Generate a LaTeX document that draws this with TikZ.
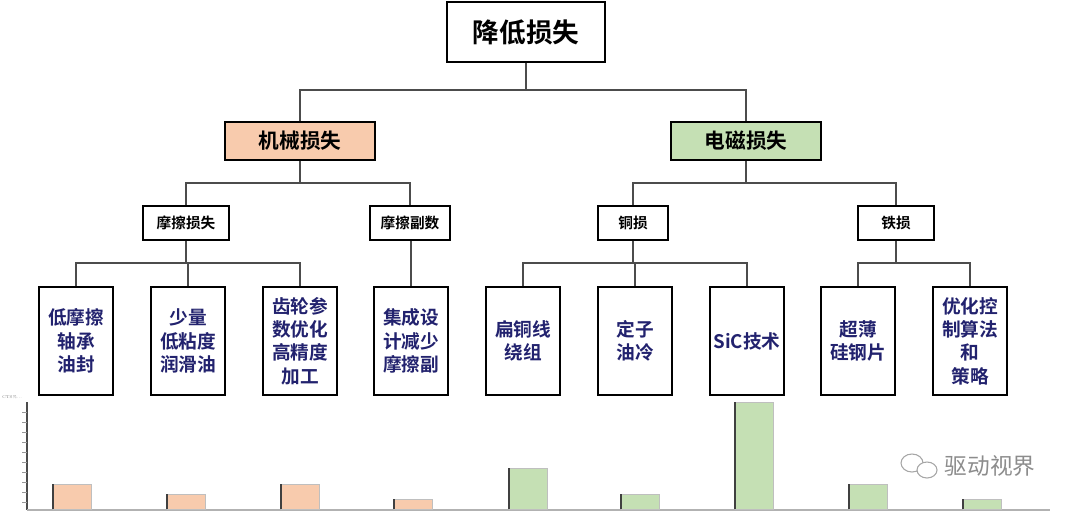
\documentclass[tikz,border=0pt]{standalone}
\usepackage{fontspec}
\newfontfamily\cjk{Noto Sans CJK SC}[BoldFont={* Bold}]
\newfontfamily\cjkb{Noto Sans CJK SC Bold}
\definecolor{peach}{HTML}{F8CBAD}
\definecolor{leaf}{HTML}{C5E0B4}
\definecolor{navy}{HTML}{22226E}
\begin{document}
\begin{tikzpicture}[x=0.75pt,y=-0.75pt,
  box/.style={draw=black,line width=1.5pt,fill=white,inner sep=0pt,align=center,font=\cjkb},
  leafbox/.style={box,minimum width=56pt,minimum height=81pt,font=\cjkb\fontsize{14}{17.5}\selectfont,text=navy},
  wire/.style={draw=black!70,line width=0.8pt},
  bar/.style={draw=black!25,line width=0.4pt}]
\useasboundingbox (0,0) rectangle (1080,515);
\node[box,minimum width=118pt,minimum height=45pt,font=\cjkb\fontsize{20}{22}\selectfont] (top) at (526,32) {降低损失};
\node[box,fill=peach,minimum width=112pt,minimum height=28pt,font=\cjkb\fontsize{15.5}{17}\selectfont] (mech) at (300,141) {机械损失};
\node[box,fill=leaf,minimum width=112pt,minimum height=28pt,font=\cjkb\fontsize{15.5}{17}\selectfont] (elec) at (746,141) {电磁损失};
\foreach \n/\x/\w/\t in {fr/186/64/摩擦损失,fp/410/60/摩擦副数,cu/633/52/铜损,fe/896/57/铁损}
  \node[box,minimum width=\w pt,minimum height=25pt,font=\cjkb\fontsize{11}{12}\selectfont] (\n) at (\x,223) {\t};
\foreach \n/\x/\t in {a/76/{低摩擦\\轴承\\油封},b/188/{少量\\低粘度\\润滑油},c/300/{齿轮参\\数优化\\高精度\\加工},d/411/{集成设\\计减少\\摩擦副},e/523/{扁铜线\\绕组},f/635/{定子\\油冷},g/747/{SiC技术},h/858/{超薄\\硅钢片},i/970/{优化控\\制算法\\和\\策略}}
  \node[leafbox] (\n) at (\x,341) {\t};
% connectors
\coordinate (j1) at (526,90);
\draw[wire] (top.south) -- (j1) (mech.north) |- (j1) -| (elec.north);
\coordinate (j2) at (300,183); \coordinate (j3) at (746,183);
\draw[wire] (mech.south) -- (j2) (fr.north) |- (j2) -| (fp.north);
\draw[wire] (elec.south) -- (j3) (cu.north) |- (j3) -| (fe.north);
\coordinate (k1) at (186,263); \coordinate (k2) at (633,263); \coordinate (k3) at (896,263);
\draw[wire] (fr.south) -- (k1) (a.north) |- (k1) -| (c.north) (b.north) -- (b.north |- k1);
\draw[wire] (d.north) -- (d.north |- fp.south);
\draw[wire] (cu.south) -- (k2) (e.north) |- (k2) -| (g.north) (f.north) -- (f.north |- k2);
\draw[wire] (fe.south) -- (k3) (h.north) |- (k3) -| (i.north);
% chart
\draw[black!70,line width=1pt] (27,402) -- (27,510);
\foreach \y in {412,422,...,502} \draw[black!40,line width=0.4pt] (22,\y) -- (27,\y);
\draw[black!30,line width=1.2pt] (27,510) -- (1050,510);
\node[font=\fontsize{3}{3}\selectfont,text=black!50] (lab) at (12,397) {CTS\%...};
\foreach \x/\t/\c in {53/484/peach,167/494/peach,281/484/peach,394/499/peach,509/468/leaf,621/494/leaf,735/402/leaf,849/484/leaf,963/499/leaf}{
  \fill[\c,draw=black!25,line width=0.4pt] (\x,\t) rectangle (\x+38,509);
  \draw[black!75,line width=0.8pt] (\x,\t) -- (\x,509);}
% watermark
\node[font=\cjk\fontsize{17}{20}\selectfont,text=black!45] (wm) at (990,466) {驱动视界};
\draw[black!35,line width=0.8pt] (912,463) ellipse (11 and 9);
\draw[black!35,line width=0.8pt,fill=white] (927,470) ellipse (10 and 8);
\end{tikzpicture}
\end{document}
